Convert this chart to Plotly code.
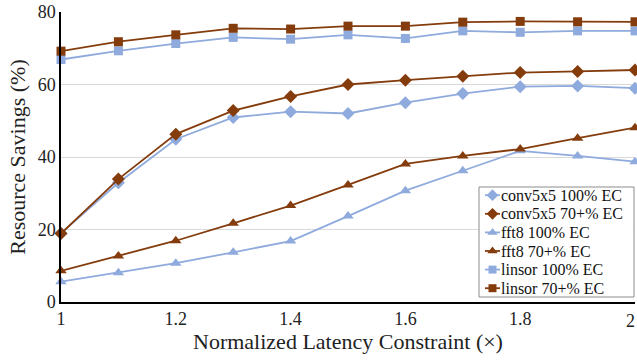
import plotly.graph_objects as go

x_vals = [1.0, 1.1, 1.2, 1.3, 1.4, 1.5, 1.6, 1.7, 1.8, 1.9, 2.0]

conv_100 = [19.0, 32.9, 44.9, 50.9, 52.5, 52.0, 55.0, 57.5, 59.4, 59.6, 59.0]
conv_70 = [18.9, 33.9, 46.3, 52.8, 56.7, 60.0, 61.2, 62.3, 63.3, 63.6, 64.0]
fft8_100 = [5.6, 8.1, 10.7, 13.7, 16.8, 23.7, 30.7, 36.2, 41.7, 40.3, 38.7]
fft8_70 = [8.6, 12.7, 16.9, 21.7, 26.6, 32.3, 38.1, 40.3, 42.2, 45.2, 48.1]
linsor_100 = [66.9, 69.3, 71.3, 73.0, 72.5, 73.7, 72.7, 74.8, 74.4, 74.8, 74.8]
linsor_70 = [69.2, 71.8, 73.7, 75.5, 75.3, 76.1, 76.1, 77.2, 77.4, 77.3, 77.3]

x_tickvals = [1, 1.2, 1.4, 1.6, 1.8, 2]
x_ticktext = ["1", "1.2", "1.4", "1.6", "1.8", "2"]
y_tickvals = [0, 20, 40, 60, 80]

names = ["conv5x5 100% EC", "conv5x5 70+% EC", "fft8 100% EC",
         "fft8 70+% EC", "linsor 100% EC", "linsor 70+% EC"]
series = [conv_100, conv_70, fft8_100, fft8_70, linsor_100, linsor_70]
symbols = ["diamond", "diamond", "triangle-up", "triangle-up", "square", "square"]
blue = "#8faadc"
brown = "#843c0c"
colors = [blue, brown, blue, brown, blue, brown]
msize = {"diamond": 10, "triangle-up": 10, "square": 9}

fig = go.Figure()
for n, s, sym, c in zip(names, series, symbols, colors):
    fig.add_trace(go.Scatter(
        x=x_vals, y=s, name=n, mode="lines+markers",
        line=dict(color=c, width=1.8),
        marker=dict(symbol=sym, size=msize[sym], color=c),
        cliponaxis=False, showlegend=False,
    ))

# ---- legend drawn in an overlay pixel-space subplot ----
PL, PR, PT, PB = 61, 635, 12, 302  # plot area in pixels
box = dict(x0=479, x1=634, y0=187, y1=297)
fig.add_trace(go.Scatter(
    x=[box["x0"], box["x1"], box["x1"], box["x0"], box["x0"]],
    y=[box["y0"], box["y0"], box["y1"], box["y1"], box["y0"]],
    mode="lines", fill="toself", fillcolor="white",
    line=dict(color="#8c8c8c", width=1),
    xaxis="x2", yaxis="y2", showlegend=False, hoverinfo="skip",
    cliponaxis=False,
))
item_y0, item_dy = 195.2, 18.6
font = "Liberation Serif"
annotations = []
for i, (n, sym, c) in enumerate(zip(names, symbols, colors)):
    yy = item_y0 + i * item_dy
    fig.add_trace(go.Scatter(
        x=[485, 500], y=[yy, yy], mode="lines",
        line=dict(color=c, width=1.8),
        xaxis="x2", yaxis="y2", showlegend=False, hoverinfo="skip",
        cliponaxis=False,
    ))
    fig.add_trace(go.Scatter(
        x=[492.5], y=[yy], mode="markers",
        marker=dict(symbol=sym, size=msize[sym] - 1, color=c),
        xaxis="x2", yaxis="y2", showlegend=False, hoverinfo="skip",
        cliponaxis=False,
    ))
    annotations.append(dict(
        x=500, y=yy, xref="x2", yref="y2", text=n, showarrow=False,
        xanchor="left", yanchor="middle", xshift=-1,
        font=dict(family=font, size=16, color="#111"),
    ))

# last x tick label kept fully inside the page (right-anchored at the axis end)
annotations.append(dict(
    x=x_tickvals[-1], y=0, xref="x", yref="paper", text=x_ticktext[-1],
    showarrow=False, xanchor="right", yanchor="top", xshift=2, yshift=-7,
    font=dict(family=font, size=18, color="#222"),
))
shown_ticktext = x_ticktext[:-1] + [""]

fig.update_layout(
    width=637, height=362,
    margin=dict(l=PL, r=637 - PR, t=PT, b=362 - PB),
    paper_bgcolor="white", plot_bgcolor="white",
    font=dict(family=font, size=16, color="#222"),
    showlegend=False,
    annotations=annotations,
    xaxis=dict(
        range=[1, 2], tickvals=x_tickvals, ticktext=shown_ticktext,
        showgrid=False, showline=True, linecolor="black", linewidth=1.5,
        ticks="", zeroline=False, automargin=False,
        title=dict(text="Normalized Latency Constraint (×)", font=dict(family=font, size=22), standoff=4),
        tickfont=dict(family=font, size=18),
    ),
    yaxis=dict(
        range=[0, 80], tickvals=y_tickvals,
        showgrid=True, gridcolor="#d9d9d9", gridwidth=1,
        showline=True, linecolor="black", linewidth=1.5,
        ticks="", zeroline=False, automargin=False,
        title=dict(text="Resource Savings (%)", font=dict(family=font, size=22), standoff=6),
        tickfont=dict(family=font, size=18),
    ),
    xaxis2=dict(overlaying="x", range=[PL, PR], visible=False, fixedrange=True),
    yaxis2=dict(overlaying="y", range=[PB, PT], visible=False, fixedrange=True),
)

fig.write_html(
    "out.html",
    config={"displayModeBar": False},
    post_script="document.body.style.margin='0';document.body.style.overflow='hidden';",
)
